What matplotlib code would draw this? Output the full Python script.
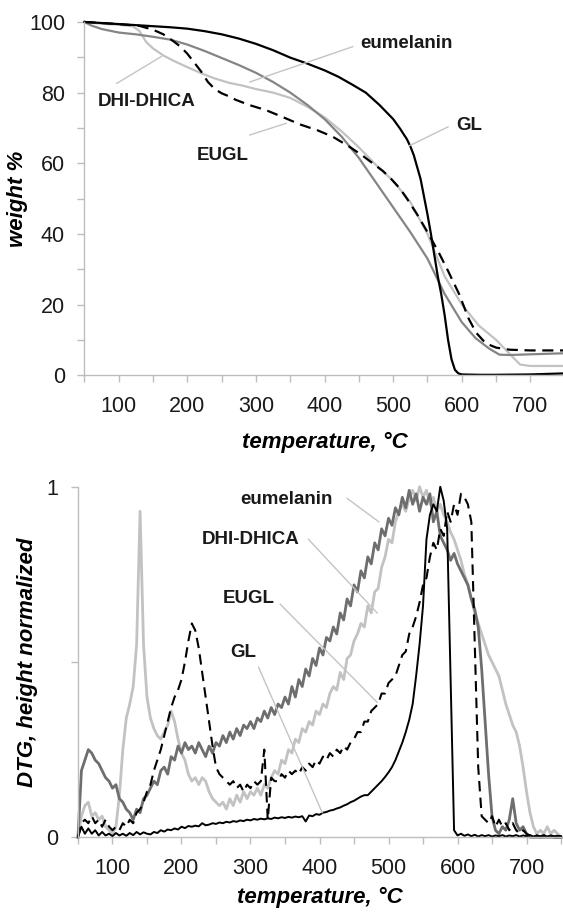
import matplotlib
matplotlib.use('Agg')
import matplotlib.pyplot as plt

plt.rcParams['font.family'] = ['Liberation Sans', 'DejaVu Sans']

# ---- top panel: weight % vs temperature ----
gl_t = [50, 75, 100, 125, 150, 175, 200, 225, 250, 275, 300, 325, 350, 375, 400, 420, 440, 460, 480, 490,
        500, 510, 520, 525, 530, 540, 550, 555, 560, 565, 570, 575, 580, 585, 590, 595, 600, 625, 650, 700, 750]
gl_w = [100, 99.7, 99.4, 99.1, 98.8, 98.5, 98.1, 97.4, 96.5, 95.3, 93.8, 92.0, 89.9, 88.2, 86.3, 84.5, 82.3, 80.0, 76.5, 74.5,
        72.5, 69.8, 66.8, 64.8, 62.3, 55.5, 45.5, 40.0, 34.0, 28.0, 23.0, 17.0, 10.0, 4.5, 1.5, 0.5, 0.2, 0.1, 0.1, 0.2, 0.5]

eu_t = [50, 60, 75, 100, 125, 150, 175, 200, 225, 250, 275, 300, 325, 350, 375, 400, 425, 450, 475, 500,
        525, 550, 575, 600, 620, 640, 655, 670, 700, 750]
eu_w = [100, 99, 98, 97, 96.5, 95.8, 95, 93.6, 91.8, 89.8, 87.8, 85.6, 83, 80, 76.5, 72.5, 67.5, 61.5, 54.5, 47.5,
        40.5, 33, 23, 15, 10.5, 7.5, 5.8, 5.7, 5.9, 6.2]

dhi_t = [50, 75, 100, 120, 130, 140, 150, 165, 180, 200, 220, 240, 260, 280, 300, 325, 350, 375, 400, 425,
         450, 475, 500, 525, 550, 575, 600, 625, 650, 670, 685, 700, 750]
dhi_w = [100, 99.5, 99.2, 98.8, 97.5, 94.3, 92.5, 90.5, 89, 87.2, 85.5, 84, 82.8, 82, 81, 80, 78.5, 76, 73, 69,
         64.5, 59.5, 55, 49, 40, 28, 20, 14, 10, 6, 3, 2.6, 2.6]

eugl_t = [50, 75, 100, 130, 150, 165, 180, 190, 200, 210, 220, 230, 240, 250, 260, 270, 290, 315, 340, 364,
          390, 412, 436, 455, 470, 485, 495, 510, 520, 535, 550, 567, 580, 596, 610, 621, 635, 650, 670, 700, 750]
eugl_w = [100, 99.7, 99.4, 98.9, 97.8, 96.5, 94.5, 93, 91, 88.5, 86, 83, 81, 79.8, 79, 78, 76.5, 75, 73, 71,
          69.3, 67.5, 64.7, 62.2, 60, 57.8, 56, 52.8, 50, 45.5, 40.5, 34.5, 29.5, 23, 16, 12, 9, 7.8, 7.2, 7, 7]

# ---- bottom panel: DTG, normalized (5 degC steps, 50..750) ----
dtg_t = list(range(50, 751, 5))

dtg_eu = [0.0, 0.19, 0.22, 0.25, 0.24, 0.22, 0.21, 0.19, 0.17, 0.16,
          0.14, 0.15, 0.11, 0.10, 0.08, 0.07, 0.05, 0.08, 0.07, 0.11,
          0.12, 0.14, 0.16, 0.15, 0.19, 0.20, 0.18, 0.23, 0.22, 0.26,
          0.24, 0.27, 0.25, 0.26, 0.24, 0.27, 0.25, 0.23, 0.26, 0.24,
          0.27, 0.26, 0.29, 0.27, 0.30, 0.28, 0.31, 0.29, 0.32, 0.31,
          0.33, 0.31, 0.34, 0.33, 0.36, 0.34, 0.37, 0.35, 0.38, 0.37,
          0.40, 0.38, 0.43, 0.40, 0.45, 0.43, 0.48, 0.46, 0.51, 0.49,
          0.54, 0.52, 0.57, 0.56, 0.60, 0.58, 0.64, 0.62, 0.68, 0.66,
          0.72, 0.70, 0.76, 0.74, 0.80, 0.78, 0.84, 0.82, 0.88, 0.86,
          0.91, 0.89, 0.94, 0.92, 0.97, 0.94, 0.99, 0.95, 0.98, 0.93,
          0.97, 0.95, 0.98, 0.90, 0.93, 0.86, 0.84, 0.82, 0.79, 0.81,
          0.78, 0.76, 0.74, 0.72, 0.68, 0.65, 0.60, 0.48, 0.33, 0.18,
          0.06, 0.02, 0.01, 0.03, 0.02, 0.05, 0.11, 0.04, 0.02, 0.03,
          0.01, 0.0, 0.0, 0.0, 0.0, 0.0, 0.0, 0.0, 0.0, 0.0, 0.0]

dtg_dhi = [0.0, 0.06, 0.09, 0.10, 0.06, 0.07, 0.05, 0.06, 0.03, 0.02,
           0.01, 0.03, 0.12, 0.25, 0.34, 0.38, 0.43, 0.55, 0.93, 0.55,
           0.40, 0.34, 0.31, 0.29, 0.28, 0.30, 0.32, 0.36, 0.33, 0.28,
           0.24, 0.22, 0.18, 0.16, 0.17, 0.15, 0.17, 0.16, 0.13, 0.11,
           0.10, 0.09, 0.10, 0.08, 0.11, 0.09, 0.12, 0.10, 0.13, 0.11,
           0.13, 0.12, 0.14, 0.12, 0.15, 0.14, 0.17, 0.19, 0.18, 0.22,
           0.21, 0.25, 0.24, 0.28, 0.27, 0.31, 0.30, 0.33, 0.32, 0.36,
           0.35, 0.38, 0.37, 0.41, 0.43, 0.42, 0.47, 0.45, 0.51, 0.52,
           0.56, 0.58, 0.61, 0.60, 0.66, 0.64, 0.70, 0.71, 0.77, 0.80,
           0.85, 0.84, 0.90, 0.93, 0.95, 0.93, 0.97, 0.99, 0.96, 1.0,
           0.97, 0.99, 0.95, 0.97, 0.93, 0.95, 0.92, 0.90, 0.87, 0.85,
           0.82, 0.79, 0.75, 0.72, 0.68, 0.64, 0.61, 0.58, 0.55, 0.52,
           0.50, 0.48, 0.46, 0.42, 0.38, 0.35, 0.32, 0.30, 0.26, 0.20,
           0.13, 0.07, 0.03, 0.01, 0.02, 0.01, 0.03, 0.01, 0.02, 0.01, 0.0]

dtg_eugl = [0.0, 0.04, 0.05, 0.04, 0.06, 0.04, 0.05, 0.03, 0.05, 0.03,
            0.02, 0.03, 0.02, 0.04, 0.03, 0.05, 0.04, 0.07, 0.08, 0.10,
            0.13, 0.15, 0.19, 0.22, 0.25, 0.29, 0.33, 0.37, 0.40, 0.42,
            0.45, 0.50, 0.56, 0.61, 0.59, 0.54, 0.47, 0.40, 0.33, 0.26,
            0.20, 0.18, 0.17, 0.16, 0.15, 0.16, 0.14, 0.15, 0.13, 0.15,
            0.14, 0.16, 0.15, 0.16, 0.25, 0.05, 0.17, 0.16, 0.16, 0.18,
            0.17, 0.19, 0.18, 0.19, 0.18, 0.20, 0.19, 0.21, 0.20, 0.22,
            0.21, 0.23, 0.22, 0.24, 0.23, 0.25, 0.24, 0.26, 0.25, 0.27,
            0.28, 0.30, 0.30, 0.33, 0.33, 0.36, 0.37, 0.38, 0.41, 0.41,
            0.44, 0.45, 0.46, 0.49, 0.52, 0.53, 0.58, 0.60, 0.63, 0.67,
            0.72, 0.74, 0.80, 0.84, 0.82, 0.88, 0.86, 0.93, 0.90, 0.95,
            0.92, 0.98, 0.97, 0.95, 0.90, 0.55, 0.20, 0.06, 0.05, 0.04,
            0.06, 0.03, 0.05, 0.03, 0.04, 0.02, 0.04, 0.02, 0.01, 0.02,
            0.01, 0.005, 0.0, 0.005, 0.0, 0.005, 0.0, 0.005, 0.0, 0.0, 0.0]

dtg_gl = [0.0, 0.03, 0.01, 0.025, 0.01, 0.02, 0.005, 0.015, 0.005, 0.01,
          0.003, 0.012, 0.005, 0.01, 0.004, 0.012, 0.006, 0.015, 0.008, 0.014,
          0.01, 0.008, 0.015, 0.012, 0.02, 0.016, 0.022, 0.02, 0.025, 0.022,
          0.03, 0.026, 0.032, 0.03, 0.033, 0.031, 0.04, 0.034, 0.036, 0.04,
          0.038, 0.042, 0.04, 0.044, 0.042, 0.046, 0.044, 0.048, 0.046, 0.05,
          0.048, 0.052, 0.05, 0.053, 0.051, 0.054, 0.052, 0.056, 0.054, 0.057,
          0.055, 0.058, 0.056, 0.059, 0.057, 0.06, 0.045, 0.062, 0.06, 0.066,
          0.064, 0.07, 0.072, 0.076, 0.078, 0.082, 0.085, 0.09, 0.094, 0.1,
          0.104, 0.11, 0.116, 0.12, 0.12, 0.13, 0.14, 0.15, 0.16, 0.172,
          0.185, 0.2, 0.22, 0.245, 0.27, 0.30, 0.335, 0.38, 0.46, 0.55,
          0.66, 0.85, 0.92, 0.95, 0.93, 1.0, 0.96, 0.88, 0.45, 0.02,
          0.005, 0.01, 0.004, 0.008, 0.003, 0.007, 0.002, 0.006, 0.003, 0.006,
          0.002, 0.005, 0.003, 0.006, 0.002, 0.005, 0.003, 0.006, 0.002, 0.005,
          0.003, 0.006, 0.002, 0.005, 0.003, 0.006, 0.002, 0.005, 0.003, 0.004, 0.003]

DARK = '#6e6e6e'
LIGHT = '#c2c2c2'
LEADER = '#c4c4c4'
SPINE = '#bdbdbd'
DASH = (0, (5, 3))

fig = plt.figure(figsize=(5.63, 9.15), dpi=100)
ax1 = fig.add_axes([0.150, 0.590, 0.853, 0.386])
ax2 = fig.add_axes([0.1385, 0.085, 0.858, 0.383])


def style(ax):
    for s in ['top', 'right']:
        ax.spines[s].set_visible(False)
    for s in ['left', 'bottom']:
        ax.spines[s].set_color(SPINE)
        ax.spines[s].set_linewidth(1.0)
    ax.tick_params(axis='both', colors=SPINE, labelcolor='#1a1a1a', labelsize=15.5,
                   length=5, width=1.0)
    ax.tick_params(axis='x', pad=10)
    ax.tick_params(axis='y', pad=9)
    ax.set_xlim(50, 750)
    ax.set_xticks(range(50, 751, 50))
    ax.set_xticklabels(['' if t % 100 else str(t) for t in range(50, 751, 50)])


# top panel
style(ax1)
ax1.plot(dhi_t, dhi_w, color=LIGHT, lw=1.6, clip_on=False)
ax1.plot(eu_t, eu_w, color='#858585', lw=1.6, clip_on=False)
ax1.plot(eugl_t, eugl_w, color='black', lw=1.6, ls=DASH, clip_on=False)
ax1.plot(gl_t, gl_w, color='black', lw=1.6, clip_on=False)
ax1.set_ylim(0, 100)
ax1.set_yticks(range(0, 101, 10))
ax1.set_yticklabels(['' if v % 20 else str(v) for v in range(0, 101, 10)])
ax1.set_xlabel('temperature, °C', fontsize=16, fontweight='bold', fontstyle='italic', labelpad=11)
ax1.set_ylabel('weight %', fontsize=16, fontweight='bold', fontstyle='italic')
ax1.yaxis.set_label_coords(-0.118, 0.5)

lab = dict(fontsize=13.5, fontweight='bold', color='#1a1a1a', ha='center', va='center')
ax1.plot([441, 291], [93, 83], color=LEADER, lw=1.0)
ax1.text(519, 94, 'eumelanin', **lab)
ax1.plot([580, 524], [70.3, 65], color=LEADER, lw=1.0)
ax1.text(611, 70.8, 'GL', **lab)
ax1.plot([97, 162], [82.6, 90.2], color=LEADER, lw=1.0)
ax1.text(140, 77.4, 'DHI-DHICA', **lab)
ax1.plot([291, 344], [68, 71.3], color=LEADER, lw=1.0)
ax1.text(252, 62.3, 'EUGL', **lab)

# bottom panel
style(ax2)
ax2.plot(dtg_t, dtg_dhi, color=LIGHT, lw=2.0, clip_on=False)
ax2.plot(dtg_t, dtg_eu, color=DARK, lw=2.0, clip_on=False)
ax2.plot(dtg_t, dtg_eugl, color='black', lw=1.5, ls=DASH, clip_on=False)
ax2.plot(dtg_t, dtg_gl, color='black', lw=1.4, clip_on=False)
ax2.set_ylim(0, 1)
ax2.set_yticks([0, 0.5, 1])
ax2.set_yticklabels(['0', '', '1'])
ax2.set_xlabel('temperature, °C', fontsize=16, fontweight='bold', fontstyle='italic', labelpad=6)
ax2.set_ylabel('DTG, height normalized', fontsize=16, fontweight='bold', fontstyle='italic')
ax2.yaxis.set_label_coords(-0.083, 0.5)

ax2.plot([440, 486], [0.967, 0.90], color=LEADER, lw=1.0)
ax2.text(352, 0.963, 'eumelanin', **lab)
ax2.plot([384, 483.5], [0.85, 0.64], color=LEADER, lw=1.0)
ax2.text(299.6, 0.85, 'DHI-DHICA', **lab)
ax2.plot([343, 483.5], [0.665, 0.385], color=LEADER, lw=1.0)
ax2.text(297, 0.68, 'EUGL', **lab)
ax2.plot([311.7, 404], [0.485, 0.07], color=LEADER, lw=1.0)
ax2.text(290, 0.527, 'GL', **lab)

fig.savefig('out.png', dpi=100)
